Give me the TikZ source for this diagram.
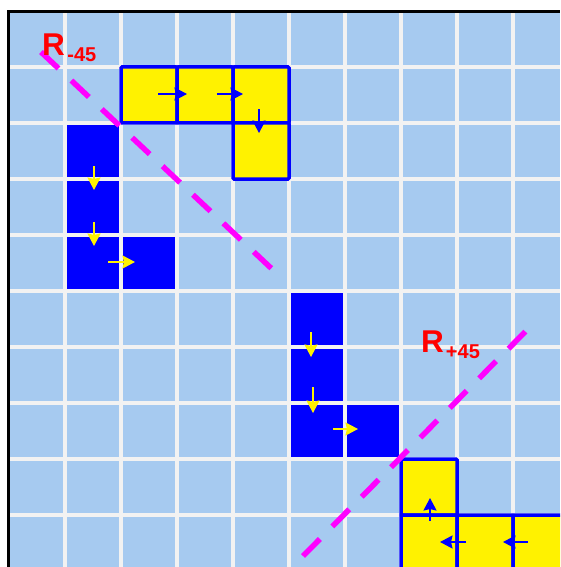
\documentclass[tikz,border=0pt]{standalone}
\usepackage{fontspec}
\setmainfont{Liberation Sans}
\usetikzlibrary{arrows.meta}
\definecolor{skyb}{RGB}{166,202,240}
\definecolor{gridw}{RGB}{242,242,242}
\definecolor{magen}{RGB}{255,0,255}
\begin{document}
\begin{tikzpicture}[x=1pt,y=-1pt,
  ycell/.style={fill=yellow, draw=blue, line width=3.5pt, rounded corners=1pt},
  bcell/.style={fill=blue},
  gridline/.style={draw=gridw, line width=3.5pt},
  barrow/.style={draw=blue, line width=2pt, -{Stealth[length=12.5pt,width=13pt,inset=1.5pt]}},
  yarrow/.style={draw=yellow, line width=2pt, -{Stealth[length=12.5pt,width=13pt,inset=1.5pt]}},
  axisline/.style={draw=magen, line width=5.5pt, dash pattern=on 24pt off 17.7pt},
  lbl/.style={text=red, font=\fontsize{31.5}{36}\selectfont\bfseries, inner sep=0pt, anchor=base west}
]
\clip (0,0) rectangle (560,567);
\fill[white] (0,0) rectangle (560,567);
\fill[skyb] (8.5,11.5) rectangle (560,567);
% blue cells
\fill[bcell] (65,123) rectangle (121,291);
\fill[bcell] (121,235) rectangle (177,291);
\fill[bcell] (289,291) rectangle (345,459);
\fill[bcell] (345,403) rectangle (401,459);
% grid
\foreach \x in {65,121,...,513} \draw[gridline] (\x,13) -- (\x,567);
\foreach \y in {67,123,...,515} \draw[gridline] (10,\y) -- (560,\y);
% border
\draw[black, line width=3pt] (8.5,567) -- (8.5,11.5) -- (560,11.5);
% yellow cells
\draw[ycell] (121,67) rectangle (177,123);
\draw[ycell] (177,67) rectangle (233,123);
\draw[ycell] (233,67) rectangle (289,123);
\draw[ycell] (233,123) rectangle (289,179);
\draw[ycell] (401,459) rectangle (457,515);
\draw[ycell] (401,515) rectangle (457,571);
\draw[ycell] (457,515) rectangle (513,571);
\draw[ycell] (513,515) rectangle (569,571);
% arrows
\draw[barrow] (158,94) -- (187,94);
\draw[barrow] (217,94) -- (243,94);
\draw[barrow] (259,109) -- (259,133);
\draw[yarrow] (94,166) -- (94,190);
\draw[yarrow] (94,222) -- (94,246);
\draw[yarrow] (108,262) -- (135,262);
\draw[yarrow] (311,332) -- (311,357);
\draw[yarrow] (313,387) -- (313,413);
\draw[yarrow] (333,429) -- (358,429);
\draw[barrow] (430,521) -- (430,498);
\draw[barrow] (466,542) -- (440,542);
\draw[barrow] (528,542) -- (503,542);
% axes
\draw[axisline] (41,52) -- (272,269);
\draw[axisline] (303,556) -- (526,331);
% labels
\node[lbl] (rminus) at (42,55.7) {R\kern2.5pt\raisebox{-5.4pt}{\fontsize{20}{24}\selectfont -45}};
\node[lbl] (rplus) at (421,352.5) {R\kern2pt\raisebox{-5.6pt}{\fontsize{20}{24}\selectfont +45}};
\end{tikzpicture}
\end{document}
